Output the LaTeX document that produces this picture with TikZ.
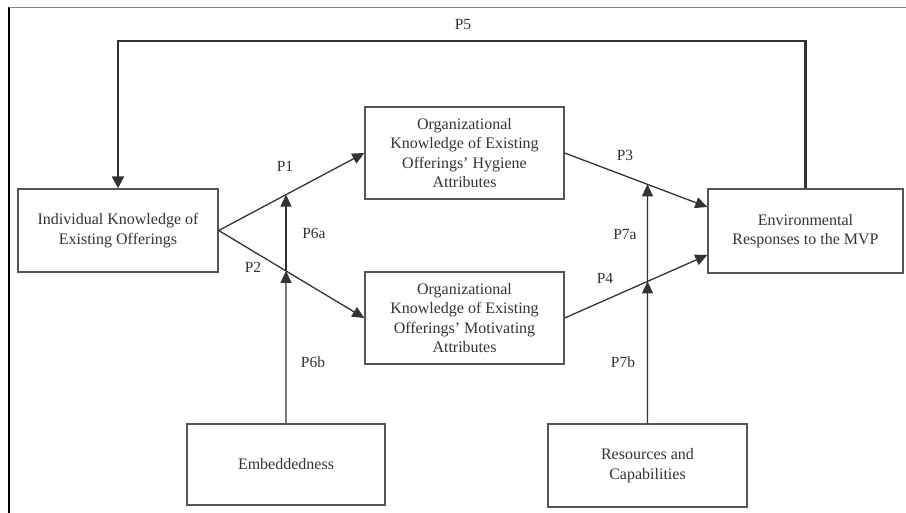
\documentclass[tikz,border=0pt]{standalone}
\usepackage{fontspec}
\setmainfont{Liberation Serif}
\usetikzlibrary{arrows.meta,calc}
\definecolor{ink}{HTML}{333333}
\definecolor{boxline}{HTML}{555555}
\begin{document}
\begin{tikzpicture}[x=1pt,y=-1pt,
  box/.style={draw=boxline,line width=1.4pt,align=center,text=ink,inner sep=2pt,
    font=\fontsize{16}{19.5}\selectfont},
  lab/.style={text=ink,font=\fontsize{15.5}{18}\selectfont,inner sep=0pt},
  conn/.style={draw=ink,line width=1.3pt,-{Triangle[length=12pt,width=11pt]}},
  plain/.style={draw=ink,line width=1.3pt}]
\useasboundingbox (0,0) rectangle (906,513);
% frame lines
\draw[black,line width=1.6pt] (9,7) -- (9,513);
\draw[gray,line width=0.9pt] (9,7) -- (906,7);
% boxes
\node[box,minimum width=200pt,minimum height=83pt] (ind) at (118,230.5) {Individual Knowledge of\\Existing Offerings};
\node[box,minimum width=199pt,minimum height=92pt] (hyg) at (464.5,153) {Organizational\\Knowledge of Existing\\Offerings’ Hygiene\\Attributes};
\node[box,minimum width=199pt,minimum height=92pt] (mot) at (464.5,318) {Organizational\\Knowledge of Existing\\Offerings’ Motivating\\Attributes};
\node[box,minimum width=195pt,minimum height=84pt] (env) at (805.5,231) {Environmental\\Responses to the MVP};
\node[box,minimum width=198pt,minimum height=81pt] (emb) at (286,464.5) {Embeddedness};
\node[box,minimum width=199pt,minimum height=83pt] (res) at (647.5,465.5) {Resources and\\Capabilities};
% connection points
\coordinate (envA) at ([yshift=24pt]env.west);
\coordinate (envB) at ([yshift=-24pt]env.west);
\coordinate (embup) at ([yshift=300pt]emb.north);
\coordinate (resup) at ([yshift=300pt]res.north);
\coordinate (p6top) at (intersection of ind.east--hyg.west and emb.north--embup);
\coordinate (p6mid) at (intersection of ind.east--mot.west and emb.north--embup);
\coordinate (p7top) at (intersection of hyg.east--envA and res.north--resup);
\coordinate (p7mid) at (intersection of mot.east--envB and res.north--resup);
\coordinate (p5y) at (0,41);
% main arrows
\draw[conn] (ind.east) -- (hyg.west);
\draw[conn] (ind.east) -- (mot.west);
\draw[conn] (hyg.east) -- (envA);
\draw[conn] (mot.east) -- (envB);
% moderators
\draw[conn] (emb.north) -- (p6mid);
\draw[conn] (p6mid) -- (p6top);
\draw[conn] (res.north) -- (p7mid);
\draw[conn] (p7mid) -- (p7top);
% feedback P5
\draw[draw=ink,line width=2.4pt,-{Triangle[length=12pt,width=12pt]}] (env.north) -- (env.north |- p5y) -- (ind.north |- p5y) -- (ind.north);
% labels
\node[lab] (lP5) at (463,25) {P5};
\node[lab] (lP1) at (285,166) {P1};
\node[lab] (lP2) at (253,267) {P2};
\node[lab] (lP6a) at (314,233) {P6a};
\node[lab] (lP6b) at (313,362) {P6b};
\node[lab] (lP3) at (625,155) {P3};
\node[lab] (lP7a) at (625,235) {P7a};
\node[lab] (lP4) at (605,278) {P4};
\node[lab] (lP7b) at (623,362) {P7b};
\end{tikzpicture}
\end{document}
